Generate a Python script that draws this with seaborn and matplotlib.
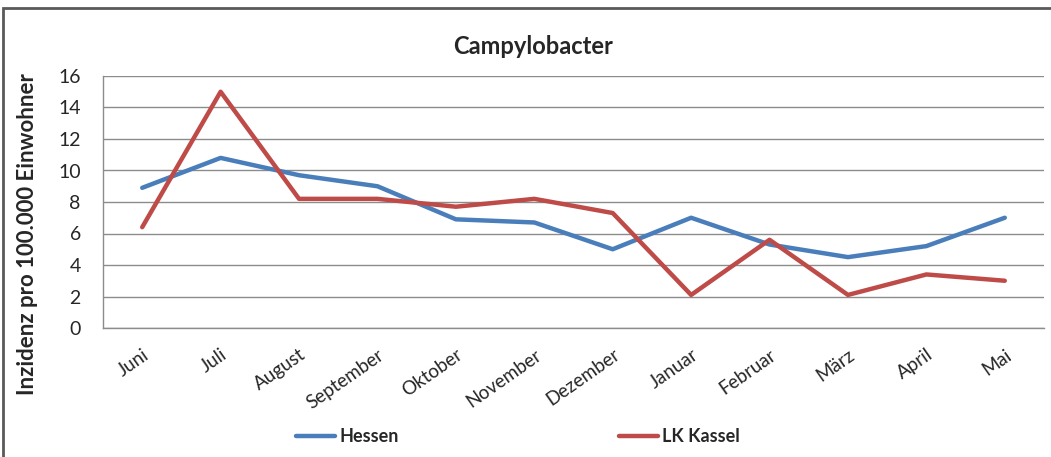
import matplotlib
matplotlib.use("Agg")
import matplotlib.pyplot as plt
import seaborn as sns
import pandas as pd
from matplotlib.patches import Rectangle
from matplotlib.lines import Line2D
from matplotlib.ticker import FixedLocator

months = ["Juni", "Juli", "August", "September", "Oktober", "November",
          "Dezember", "Januar", "Februar", "März", "April", "Mai"]
hessen = [8.9, 10.8, 9.7, 9.0, 6.9, 6.7, 5.0, 7.0, 5.3, 4.5, 5.2, 7.0]
kassel = [6.4, 15.0, 8.2, 8.2, 7.7, 8.2, 7.3, 2.1, 5.6, 2.1, 3.4, 3.0]
series_names = ["Hessen", "LK Kassel"]
yticks = [0, 2, 4, 6, 8, 10, 12, 14, 16]

df = pd.DataFrame({
    "Monat": months * 2,
    "Wert": hessen + kassel,
    "Reihe": [series_names[0]] * len(months) + [series_names[1]] * len(months),
})

sns.set_style("white")
plt.rcParams["font.family"] = ["Lato", "DejaVu Sans"]

W, H = 1051, 457
fig = plt.figure(figsize=(W / 100, H / 100), dpi=100)
ax = fig.add_axes([103 / W, 1 - 328 / H, (1044 - 103) / W, (328 - 76) / H])

palette = {"Hessen": "#4A7EBB", "LK Kassel": "#BE4B48"}
sns.lineplot(data=df, x="Monat", y="Wert", hue="Reihe", palette=palette,
             sort=False, linewidth=3.2, ax=ax, legend=False)

ax.set_xlim(-0.5, len(months) - 0.5)
ax.set_ylim(0, 16)
ax.set_yticks(yticks)
ax.set_yticklabels([str(v) for v in yticks], fontsize=14)
ax.yaxis.grid(True, color="#8c8c8c", linewidth=1)
ax.set_axisbelow(True)
ax.set_xlabel("")
ax.set_ylabel("Inzidenz pro 100.000 Einwohner", fontsize=16, fontweight="bold")
ax.yaxis.set_label_coords((38 - 103) / 941, (328 - 234) / 252)

ax.set_xticks(range(len(months)))
ax.set_xticklabels(months, fontsize=13.5, rotation=35, ha="right", va="top",
                   rotation_mode="anchor")
ax.tick_params(axis="x", which="major", length=0, pad=13)
ax.xaxis.set_minor_locator(FixedLocator([i - 0.5 for i in range(len(months) + 1)]))
ax.tick_params(axis="x", which="minor", length=6, color="#8c8c8c", width=1, direction="out")
ax.tick_params(axis="y", length=6, color="#8c8c8c", width=1, direction="out", pad=10)

for s in ["top", "right"]:
    ax.spines[s].set_visible(False)
for s in ["left", "bottom"]:
    ax.spines[s].set_color("#8c8c8c")
    ax.spines[s].set_linewidth(1)

fig.text(533 / W, 1 - 47 / H, "Campylobacter", ha="center", va="center",
         fontsize=17, fontweight="bold")

handles = [Line2D([0], [0], color=palette[n], lw=3.2) for n in series_names]
fig.legend(handles, series_names, loc="center", bbox_to_anchor=(518 / W, 1 - 437 / H),
           ncol=2, frameon=False, handlelength=2.15, handletextpad=0.25,
           columnspacing=12.2, prop={"weight": "bold", "size": 13})

fig.patches.append(Rectangle((3 / W, -0.1), 1.2, 1 - 8 / H + 0.1, transform=fig.transFigure,
                             fill=False, edgecolor="#5a5a5a", linewidth=2))

fig.savefig("out.png", dpi=100)
